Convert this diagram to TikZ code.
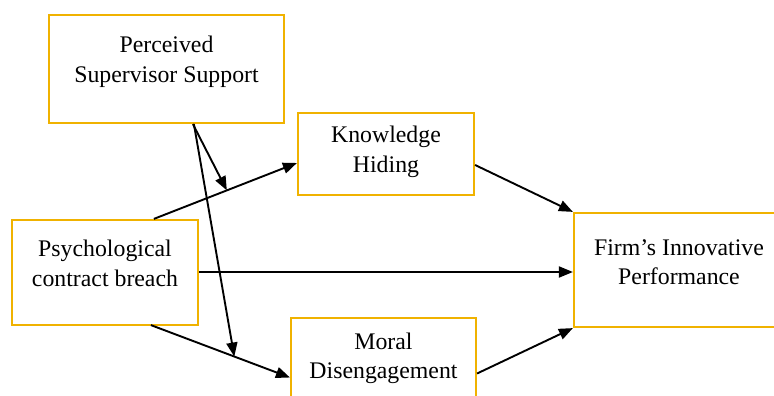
\documentclass[tikz,border=0pt]{standalone}
\usepackage{fontspec}
\setmainfont{Liberation Serif}
\usetikzlibrary{arrows.meta,calc}
\definecolor{boxgold}{RGB}{240,178,0}
\begin{document}
\begin{tikzpicture}[x=1pt,y=1pt,
  box/.style={draw=boxgold,line width=2.2pt,rectangle,inner sep=0pt},
  txt/.style={align=center,font=\fontsize{23.8}{29.5}\selectfont,inner sep=0pt},
  arr/.style={line width=1.9pt,-{Triangle[length=14pt,width=11pt]}},
  ln/.style={line width=1.8pt}]
\path[use as bounding box,clip] (0,0) rectangle (774,396);
\fill[white] (0,0) rectangle (774,396);
% boxes
\node[box,minimum width=235pt,minimum height=108pt] (pss) at (166.5,327) {};
\node[box,minimum width=176pt,minimum height=82pt] (kh) at (386,242) {};
\node[box,minimum width=186pt,minimum height=105pt] (pcb) at (105,123.5) {};
\node[box,minimum width=185pt,minimum height=87pt] (md) at (383.5,34.5) {};
\node[box,minimum width=216pt,minimum height=114pt] (fip) at (682,126) {};
% texts
\node[txt] (tpss) at (166.5,334) {Perceived\\Supervisor Support};
\node[txt] (tkh) at (386,244) {Knowledge\\Hiding};
\node[txt] (tpcb) at (105,132.5) {Psychological\\contract breach};
\node[txt] (tmd) at (383.5,37.5) {Moral\\Disengagement};
\node[txt] (tfip) at (679,134) {Firm’s Innovative\\Performance};
% connectors
\draw[arr] ($(pcb.north west)+(143,0)$) -- coordinate[pos=0.51] (m1) ($(kh.west)+(0,-9)$);
\draw[arr] ($(pcb.south west)+(140,1)$) -- coordinate[pos=0.60] (m2) ($(md.west)+(0,-16)$);
\draw[arr] ($(pcb.east)+(0,0.5)$) -- ($(fip.west)+(0,-2)$);
\draw[arr] ($(kh.east)+(0,-11)$) -- (fip.north west);
\draw[arr] ($(md.east)+(0,-12)$) -- (fip.south west);
\draw[arr] ($(pss.south west)+(145,0)$) -- (m1);
\draw[arr] ($(pss.south west)+(146,0)$) -- (m2);
\end{tikzpicture}
\end{document}
